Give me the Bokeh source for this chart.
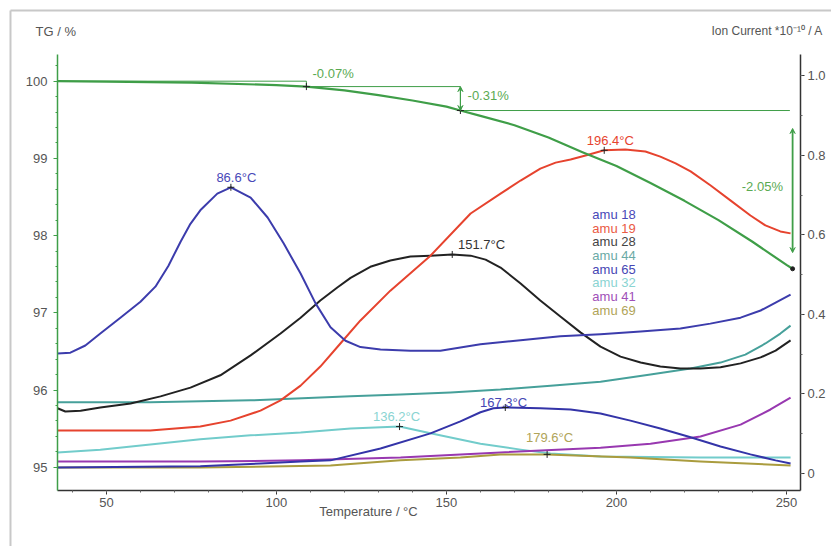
from bokeh.plotting import figure
from bokeh.models import (LinearAxis, Range1d, Label, FixedTicker, Arrow, VeeHead)
from bokeh.embed import file_html
from bokeh.resources import INLINE

FONT = "Liberation Sans"

# ---------------- data ----------------
tg_T = [35.6, 50, 75, 100, 108.8, 120, 130, 140, 150, 154.1, 160, 170, 180, 190,
        200, 210, 220, 230, 240, 250, 251.8]
tg_v = [100.0, 99.995, 99.98, 99.95, 99.93, 99.88, 99.82, 99.75, 99.67, 99.62, 99.55,
        99.43, 99.27, 99.08, 98.90, 98.68, 98.45, 98.20, 97.92, 97.62, 97.57]

amu18_T = [35.6, 39.4, 43.8, 48.2, 54.1, 60.0, 64.4, 68.2, 71.8, 74.7, 77.6, 82.6, 86.6,
           92.4, 97.4, 102.1, 107.1, 111.5, 115.9, 120.3, 124.7, 130.6, 139.4, 148.2,
           154.1, 160.0, 171.8, 183.5, 195.3, 207.1, 218.8, 227.6, 236.5, 242.4, 246.8, 251.2]
amu18_v = [0.302, 0.304, 0.322, 0.352, 0.392, 0.432, 0.47, 0.522, 0.583, 0.628, 0.662,
           0.704, 0.72, 0.694, 0.644, 0.579, 0.503, 0.428, 0.368, 0.334, 0.318, 0.312,
           0.309, 0.309, 0.317, 0.325, 0.335, 0.345, 0.35, 0.357, 0.365, 0.377, 0.392,
           0.41, 0.43, 0.45]

amu19_T = [35.6, 62.9, 77.6, 86.5, 95.3, 101.2, 107.1, 112.9, 118.8, 124.7, 133.5, 145.3,
           157.1, 165.9, 171.8, 177.6, 182.1, 186.5, 190.9, 196.4, 202.6, 208.5, 212.9,
           217.4, 221.8, 227.6, 233.5, 239.4, 243.8, 248.2, 251.2]
amu19_v = [0.108, 0.108, 0.118, 0.133, 0.158, 0.184, 0.221, 0.269, 0.327, 0.385, 0.46,
           0.548, 0.654, 0.704, 0.737, 0.767, 0.782, 0.79, 0.80, 0.813, 0.815, 0.81, 0.797,
           0.78, 0.76, 0.725, 0.687, 0.649, 0.624, 0.609, 0.604]

amu28_T = [35.6, 37.9, 42.4, 48.2, 57.1, 65.9, 74.7, 83.5, 92.4, 101.2, 107.1, 112.9,
           117.9, 121.8, 127.6, 133.5, 139.4, 145.3, 151.7, 157.1, 161.5, 165.9, 171.8,
           177.6, 183.5, 189.4, 195.3, 201.2, 207.1, 212.9, 218.8, 224.7, 230.6, 236.5,
           242.4, 246.8, 251.2]
amu28_v = [0.164, 0.156, 0.158, 0.166, 0.176, 0.194, 0.216, 0.247, 0.297, 0.352, 0.392,
           0.435, 0.468, 0.492, 0.52, 0.536, 0.546, 0.548, 0.551, 0.548, 0.538, 0.518,
           0.478, 0.435, 0.395, 0.355, 0.319, 0.294, 0.279, 0.269, 0.264, 0.264, 0.267,
           0.277, 0.292, 0.309, 0.335]

amu44_T = [35.6, 62.9, 92.4, 121.8, 136.5, 151.2, 165.9, 180.6, 195.3, 210.0, 221.8,
           230.6, 237.9, 243.8, 248.2, 251.2]
amu44_v = [0.179, 0.179, 0.184, 0.194, 0.199, 0.204, 0.211, 0.221, 0.231, 0.249, 0.264,
           0.279, 0.299, 0.327, 0.352, 0.372]

amu65_T = [35.6, 77.6, 95.3, 107.1, 115.9, 130.6, 145.3, 154.1, 160.0, 163.8, 167.3,
           177.6, 186.5, 195.3, 204.1, 212.9, 221.8, 230.6, 239.4, 246.8, 251.2]
amu65_v = [0.015, 0.018, 0.025, 0.030, 0.033, 0.063, 0.101, 0.131, 0.154, 0.164, 0.166,
           0.164, 0.161, 0.151, 0.133, 0.113, 0.091, 0.068, 0.048, 0.033, 0.025]

amu32_T = [35.6, 48.2, 62.9, 77.6, 92.4, 107.1, 121.8, 136.2, 145.3, 160.0, 171.8,
           180.6, 195.3, 224.7, 251.2]
amu32_v = [0.053, 0.06, 0.073, 0.086, 0.096, 0.103, 0.113, 0.118, 0.101, 0.075, 0.06,
           0.05, 0.043, 0.04, 0.04]

amu41_T = [35.6, 77.6, 107.1, 136.5, 165.9, 195.3, 210.0, 224.7, 236.5, 245.3, 251.2]
amu41_v = [0.03, 0.03, 0.033, 0.04, 0.053, 0.065, 0.075, 0.093, 0.123, 0.161, 0.191]

amu69_T = [35.6, 77.6, 115.9, 136.5, 154.1, 165.9, 179.6, 204.1, 224.7, 251.2]
amu69_v = [0.015, 0.015, 0.02, 0.033, 0.04, 0.048, 0.048, 0.04, 0.03, 0.02]

legend_names = ["amu 18", "amu 19", "amu 28", "amu 44", "amu 65", "amu 32", "amu 41", "amu 69"]
series_colors = ["#3c3cac", "#e6432e", "#222222", "#46a09a", "#3434a8", "#72cccb",
                 "#9838b0", "#aa9c3e"]
legend_colors = ["#4848b8", "#ea5a44", "#444444", "#6aaaa6", "#4646b4", "#8ad4d2",
                 "#a050b8", "#b0a458"]

peak_T = [86.6, 151.7, 196.4, 136.2, 167.3, 179.6]
peak_v = [0.72, 0.551, 0.813, 0.118, 0.166, 0.048]
peak_colors = ["#4848b8", "#333333", "#e6432e", "#8ad4d2", "#4646b4", "#b0a458"]
peak_text_T = [88.2, 160.3, 198.2, 135.3, 166.8, 180.3]
peak_text_v = [0.745, 0.576, 0.838, 0.143, 0.179, 0.091]

step_T = [108.8, 154.1, 251.8]
step_v = [99.93, 99.62, 97.57]
step_labels = ["-0.07%", "-0.31%", "-2.05%"]

x_ticks = [50, 100, 150, 200, 250]
tg_ticks = [95, 96, 97, 98, 99, 100]
ion_ticks = [0, 0.2, 0.4, 0.6, 0.8, 1.0]
ion_tick_labels = {0: "0", 0.2: "0.2", 0.4: "0.4", 0.6: "0.6", 0.8: "0.8", 1.0: "1.0"}

# plot-area extents (data units) and axis placement
T_MIN, T_MAX = 35.6, 254.1
TG_MIN, TG_MAX = 94.70, 100.35
ION_MIN, ION_MAX = -0.043, 1.054

GREEN = "#3f9e48"
GREEN_TXT = "#5aaa52"
GRAY_TXT = "#555555"
FS = "13px"

# ---------------- figure ----------------
# the frame covers the whole canvas; axes are pinned with fixed_location
p = figure(width=831, height=546, output_backend="svg", toolbar_location=None,
           x_range=Range1d(18.84, 263.24), y_range=Range1d(93.973, 101.045),
           min_border=0, min_border_left=0, min_border_right=0, min_border_top=0,
           min_border_bottom=0)
p.extra_y_ranges = {"ion": Range1d(-0.1837, 1.1899)}
p.outline_line_color = None
p.xgrid.visible = False
p.ygrid.visible = False
p.background_fill_color = "white"
p.border_fill_color = "white"

# outer frame border (top and left edges of the surrounding panel)
p.segment(x0=[21.78, 21.78], y0=[100.916, 100.916], x1=[300, 21.78], y1=[100.916, 90],
          line_color="#c8c8c8", line_width=2)

# axes
xa = p.xaxis[0]
xa.fixed_location = TG_MIN
xa.bounds = (T_MIN, T_MAX)
xa.ticker = FixedTicker(ticks=x_ticks, minor_ticks=list(range(40, 260, 10)))
ya = p.yaxis[0]
ya.fixed_location = T_MIN
ya.bounds = (TG_MIN, TG_MAX)
ya.ticker = FixedTicker(ticks=tg_ticks, minor_ticks=[95 + i * 0.2 for i in range(27)])
ra = LinearAxis(y_range_name="ion", fixed_location=T_MAX, bounds=(ION_MIN, ION_MAX),
                ticker=FixedTicker(ticks=ion_ticks, minor_ticks=[i * 0.1 for i in range(11)]))
ra.major_label_overrides = ion_tick_labels
p.add_layout(ra, "right")

for ax in (xa, ya, ra):
    ax.major_label_text_font = FONT
    ax.major_label_text_font_size = FS
    ax.major_label_text_color = GRAY_TXT
    ax.major_tick_in = 0
    ax.major_tick_out = 4
    ax.minor_tick_in = 0
    ax.minor_tick_out = 2
    ax.axis_line_width = 1.5
xa.axis_line_color = "#333333"
xa.major_tick_line_color = "#333333"
xa.minor_tick_line_color = "#666666"
xa.major_label_standoff = 4
ra.axis_line_color = "#333333"
ra.major_tick_line_color = "#333333"
ra.minor_tick_line_color = "#666666"
ra.major_label_standoff = 3
ya.axis_line_color = GREEN
ya.major_tick_line_color = GREEN
ya.minor_tick_line_color = GREEN
ya.major_label_standoff = 6

# ---------------- curves ----------------
ms = [(amu44_T, amu44_v), (amu32_T, amu32_v), (amu41_T, amu41_v), (amu69_T, amu69_v),
      (amu65_T, amu65_v), (amu28_T, amu28_v), (amu19_T, amu19_v), (amu18_T, amu18_v)]
ms_colors = [series_colors[3], series_colors[5], series_colors[6], series_colors[7],
             series_colors[4], series_colors[2], series_colors[1], series_colors[0]]
for (t, v), c in zip(ms, ms_colors):
    p.line(t, v, line_color=c, line_width=2, y_range_name="ion", line_join="round")

p.line(tg_T, tg_v, line_color=GREEN, line_width=2.2, line_join="round")

# step construction lines
p.segment(x0=[tg_T[0], step_T[0], step_T[1]], y0=[100.0, step_v[0], step_v[1]],
          x1=[step_T[0], step_T[1], step_T[2] - 0.8], y1=[100.0, step_v[0], step_v[1]],
          line_color=GREEN, line_width=1)
p.segment(x0=[step_T[0]], y0=[100.0], x1=[step_T[0]], y1=[step_v[0]],
          line_color=GREEN, line_width=1)
head = dict(size=5, fill_color=GREEN, line_color=GREEN)
p.add_layout(Arrow(start=VeeHead(**head), end=VeeHead(**head), x_start=step_T[1],
                   y_start=step_v[0], x_end=step_T[1], y_end=step_v[1],
                   line_color=GREEN, line_width=1.2))
p.add_layout(Arrow(start=VeeHead(**head), end=VeeHead(**head), x_start=step_T[2],
                   y_start=99.387, x_end=step_T[2], y_end=97.78,
                   line_color=GREEN, line_width=1.8))

# markers
p.scatter(step_T[:2], step_v[:2], marker="cross", size=7, line_color="#222222", line_width=1)
p.scatter([step_T[2]], [step_v[2]], marker="circle", size=4, fill_color="#222222",
          line_color="#222222")
p.scatter(peak_T, peak_v, marker="cross", size=7, line_color="#222222", line_width=1,
          y_range_name="ion")

# step labels
p.add_layout(Label(x=110.6, y=100.10, text=step_labels[0], text_font=FONT,
                   text_font_size=FS, text_color=GREEN_TXT, text_baseline="middle"))
p.add_layout(Label(x=156.2, y=99.815, text=step_labels[1], text_font=FONT,
                   text_font_size=FS, text_color=GREEN_TXT, text_baseline="middle"))
p.add_layout(Label(x=242.9, y=98.636, text=step_labels[2], text_font=FONT,
                   text_font_size=FS, text_color=GREEN_TXT, text_baseline="middle",
                   text_align="center"))

# peak labels
for t, tx, ty, c in zip(peak_T, peak_text_T, peak_text_v, peak_colors):
    p.add_layout(Label(x=tx, y=ty, text=f"{t}°C", y_range_name="ion", text_font=FONT,
                       text_font_size=FS, text_color=c, text_baseline="middle",
                       text_align="center"))

# legend text block
for i, (name, c) in enumerate(zip(legend_names, legend_colors)):
    p.add_layout(Label(x=192.9, y=0.652 - i * 0.0345, text=name, y_range_name="ion",
                       text_font=FONT, text_font_size=FS, text_color=c,
                       text_baseline="middle"))

# axis titles
p.add_layout(Label(x=29.13, y=100.644, text="TG / %", text_font=FONT, text_font_size=FS,
                   text_color=GRAY_TXT, text_baseline="middle"))
p.add_layout(Label(x=227.95, y=100.644, text="Ion Current *10⁻¹⁰ / A", text_font=FONT,
                   text_font_size="12px", text_color=GRAY_TXT, text_baseline="middle"))
p.add_layout(Label(x=127.07, y=94.426, text="Temperature / °C", text_font=FONT,
                   text_font_size=FS, text_color=GRAY_TXT, text_baseline="middle",
                   text_align="center"))

open("out.html", "w").write(file_html(p, INLINE))
